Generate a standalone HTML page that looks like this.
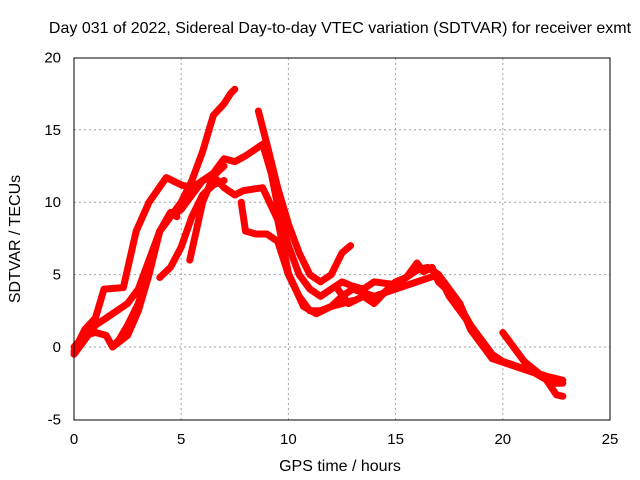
<!DOCTYPE html>
<html><head><meta charset="utf-8"><style>
body{margin:0;background:#fff}
svg{display:block;font-family:"Liberation Sans",sans-serif}
</style></head><body>
<svg id="c" width="640" height="480">
<text x="340" y="33" font-size="16" text-anchor="middle">Day 031 of 2022, Sidereal Day-to-day VTEC variation (SDTVAR) for receiver exmt</text>
<text x="340" y="471" font-size="16" text-anchor="middle">GPS time / hours</text>
<text transform="translate(20,239) rotate(-90)" font-size="16" text-anchor="middle">SDTVAR / TECUs</text>
<g id="grid"></g>
<g id="ticks"></g>
<g id="series"></g>
<rect x="74" y="58" width="536" height="362" fill="none" stroke="#000" stroke-width="1"/>
</svg>
<script>
const xTicks=[0,5,10,15,20,25];
const yTicks=[-5,0,5,10,15,20];
const track1=[[1.8,0],[2.5,0.8],[3,2.5],[3.5,5],[4,8],[4.5,9],[5,10],[5.5,11.5],[6,13.5],[6.5,16],[7,16.8],[7.3,17.5],[7.5,17.8]];
const track2=[[0,-0.3],[0.5,1.2],[1,2],[1.4,4],[2.3,4.1],[2.9,8],[3.5,10],[4.3,11.7],[5,11.2],[5.5,11],[6,11.5],[6.5,12],[7,13],[7.5,12.8],[8,13.2],[8.8,14],[9.2,12],[9.6,9],[10,7],[10.5,5],[11,4],[11.5,3.5],[12,4],[12.5,4.5],[13,4.2],[13.5,4],[14,4.5],[15,4.3],[16,5.3],[16.5,5.5],[17,5],[17.5,3.5],[18,2.5],[18.5,1.5],[19,0.5],[19.5,-0.5],[20,-1],[21,-1.5],[22,-2],[22.8,-2.3]];
const track3=[[0,-0.5],[0.5,0.5],[1,1.5],[1.5,2],[2,2.5],[2.5,3],[3,4],[3.5,6],[4,8],[4.5,9],[5,9.5],[5.5,10.5],[6,11.5],[6.5,11.8],[7,11],[7.5,10.5],[7.9,10.8],[8.8,11],[9.5,8.8],[10,5.1],[10.7,2.8],[11.3,2.3],[12,2.8],[12.5,3.5],[13,4],[14,3.5],[15,4],[16,4.5],[17,5],[18,3],[18.5,1.2],[19.5,-0.8],[20.5,-1.3],[21.5,-1.8],[22.3,-2.5],[22.8,-2.5]];
const track4=[[7.8,10],[8,8],[8.5,7.8],[9,7.8],[9.5,7.3],[10,5],[10.5,3.5],[11,2.5],[11.5,2.5],[12,2.8],[12.5,3],[13,3.2]];
const track5=[[8.6,16.3],[9,14],[9.5,11],[10,8.5],[10.5,6.5],[11,5],[11.5,4.5],[12,5],[12.5,6.5],[12.9,7]];
const track6=[[0,0],[0.5,0.8],[1,1],[1.5,0.8],[1.8,0],[2.1,0.5],[2.5,1.5],[3,3],[3.5,5.5],[4,8],[4.5,9.3],[4.8,9]];
const track7=[[4,4.8],[4.5,5.5],[5,6.9],[5.5,9],[6,10.5],[6.5,11.2],[7,11.5]];
const track8=[[5.4,6],[5.7,8],[6,10],[6.5,11.8],[7,12.5]];
const track9=[[12.3,4],[12.8,3],[13.5,3.5],[14,3],[14.5,3.8],[15,4.5],[15.5,4.8],[16,5.8],[16.3,5.2],[16.7,5.5],[17,4.5],[17.5,3.8],[18,2.8],[18.5,1.5]];
const track10=[[20,1],[20.5,0],[21,-1],[21.5,-1.6],[22,-2.2],[22.5,-3.3],[22.8,-3.4]];
const tracks=[track1,track2,track3,track4,track5,track6,track7,track8,track9,track10];
const NS='http://www.w3.org/2000/svg';
const X=v=>74+v*(536/25), Y=v=>347-v*(362/25);
const grid=document.getElementById('grid'),ticks=document.getElementById('ticks'),series=document.getElementById('series');
function mk(t,a,p){const e=document.createElementNS(NS,t);for(const k in a)e.setAttribute(k,a[k]);p.appendChild(e);return e;}
xTicks.forEach(v=>{
  if(v>0&&v<25){const g=mk('line',{x1:X(v),x2:X(v),y1:58,y2:420,stroke:'#a0a0a0','stroke-dasharray':'2,3'},grid);
  
  }
  const t=mk('text',{x:X(v),y:444,'font-size':15,'text-anchor':'middle'},ticks);t.textContent=v;
  
  
});
yTicks.forEach(v=>{
  if(v>-5&&v<20){const g=mk('line',{x1:74,x2:610,y1:Y(v),y2:Y(v),stroke:'#a0a0a0','stroke-dasharray':'2,3'},grid);
  
  }
  const t=mk('text',{x:61,y:Y(v)+5,'font-size':15,'text-anchor':'end'},ticks);t.textContent=v;
  
  
});
tracks.forEach((tr,i)=>{
  const p=mk('polyline',{points:tr.map(d=>X(d[0])+','+Y(d[1])).join(' '),fill:'none',stroke:'#ff0000','stroke-width':7,'stroke-linejoin':'round','stroke-linecap':'round'},series);
  
  
});
</script>
</body></html>
